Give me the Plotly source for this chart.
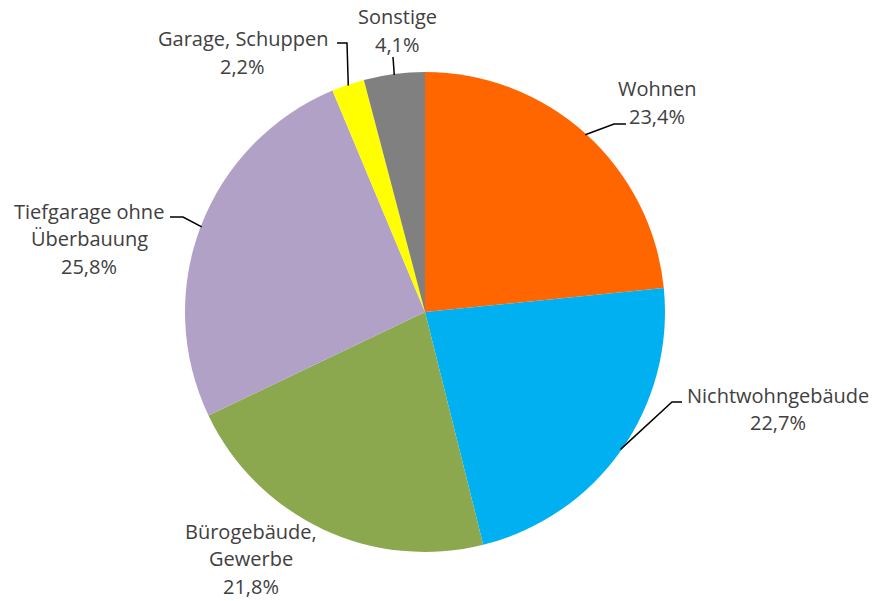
import math
import plotly.graph_objects as go

# ---- data ----
categories = ["Wohnen", "Nichtwohngebäude", "Bürogebäude, Gewerbe",
              "Tiefgarage ohne Überbauung", "Garage, Schuppen", "Sonstige"]
values = [23.4, 22.7, 21.8, 25.8, 2.2, 4.1]
label_lines = [["Wohnen", "23,4%"], ["Nichtwohngebäude", "22,7%"], ["Bürogebäude,", "Gewerbe", "21,8%"],
               ["Tiefgarage ohne", "Überbauung", "25,8%"], ["Garage, Schuppen", "2,2%"], ["Sonstige", "4,1%"]]
colors = ["#FF6600", "#00B0F0", "#8BA84E", "#B2A1C7", "#FFFF00", "#808080"]

# ---- layout (window pixels; page body margin removed) ----
W, H = 875, 601
CX, CY, R = 425, 312, 240
LINE_GAP = 27.5
# label centre x and first-line centre y (px)
label_pos = [(657, 89), (778, 395), (251, 531), (89, 211), (243, 39), (397, 17)]
elbows = [(614, 124), (672, 402), None, (183, 217), (347, 43), None]
line_end = [(626, 124), (682, 402), None, (170, 217), (337, 43), (393, 57)]

def px(x):
    return x / W

def py(y):
    return 1 - y / H

fig = go.Figure(go.Pie(
    labels=categories, values=values, sort=False, direction="clockwise", rotation=0,
    marker=dict(colors=colors, line=dict(width=0)), textinfo="none", hoverinfo="label+percent",
    domain=dict(x=[px(CX - R), px(CX + R)], y=[py(CY + R), py(CY - R)]),
    showlegend=False,
))

total = sum(values)
cum = 0
shapes = []
annotations = []
for i, v in enumerate(values):
    mid = (cum + v / 2) / total * 2 * math.pi
    cum += v
    sx = CX + (R - 1) * math.sin(mid)
    sy = CY - (R - 1) * math.cos(mid)
    if line_end[i] is not None:
        pts = [(sx, sy)]
        if elbows[i] is not None:
            pts.append(elbows[i])
        pts.append(line_end[i])
        path = "M " + " L ".join(f"{px(x)},{py(y)}" for x, y in pts)
        shapes.append(dict(type="path", xref="paper", yref="paper", path=path,
                           line=dict(color="#000000", width=1.5)))
    lx, ly = label_pos[i]
    for j, t in enumerate(label_lines[i]):
        annotations.append(dict(x=px(lx), y=py(ly + j * LINE_GAP), xref="paper", yref="paper", text=t,
                                showarrow=False, xanchor="center", yanchor="middle", align="center",
                                font=dict(family="Open Sans, sans-serif", size=20, color="#404040")))

fig.update_layout(width=W, height=H, margin=dict(l=0, r=0, t=0, b=0),
                  paper_bgcolor="white", plot_bgcolor="white",
                  shapes=shapes, annotations=annotations)
fig.write_html("out.html", config={"displayModeBar": False},
               post_script="document.body.style.margin='0';")
